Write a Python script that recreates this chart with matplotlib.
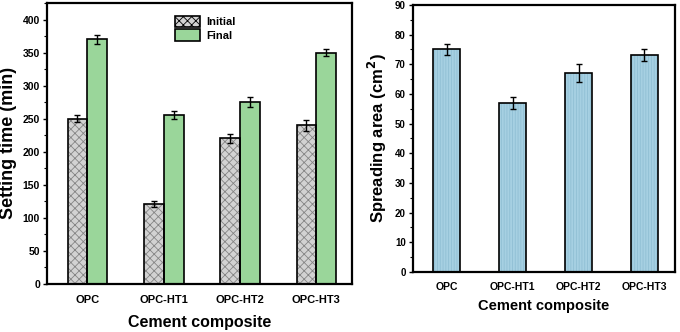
import numpy as np
import matplotlib
matplotlib.use('Agg')
import matplotlib.pyplot as plt
from matplotlib.patches import Patch

plt.rcParams['font.family'] = ['Liberation Sans', 'DejaVu Sans']
plt.rcParams['font.weight'] = 'bold'
plt.rcParams['hatch.linewidth'] = 0.6

# data
categories = ['OPC', 'OPC-HT1', 'OPC-HT2', 'OPC-HT3']
initial_time = [250, 121, 220, 240]
initial_err = [5, 5, 7, 8]
final_time = [370, 255, 275, 350]
final_err = [7, 6, 8, 5]
spread_area = [75, 57, 67, 73]
spread_err = [2, 2, 3, 2]


def hatched_bar(ax, x, h, w, face, hcolor, hatch, **kw):
    ax.bar(x, h, w, color=face, edgecolor=hcolor, hatch=hatch, linewidth=0, zorder=2)
    ax.bar(x, h, w, color='none', edgecolor='black', linewidth=1.2, zorder=3, **kw)


def main():
    fig = plt.figure(figsize=(6.8, 3.32), dpi=100)
    ax1 = fig.add_axes([0.069, 0.145, 0.449, 0.846])
    ax2 = fig.add_axes([0.607, 0.181, 0.386, 0.804])

    x = np.arange(len(categories))
    w = 0.26
    ek = dict(ecolor='black', elinewidth=1, capsize=2.5, capthick=1)

    # Setting time
    hatched_bar(ax1, x - w / 2, initial_time, w, '#d2d2d2', '#858585', 'xxxx',
                yerr=initial_err, error_kw=ek)
    hatched_bar(ax1, x + w / 2, final_time, w, '#9ad69a', '#9ad69a', None,
                yerr=final_err, error_kw=ek)
    ax1.set_xlim(-0.53, 3.47)
    ax1.set_ylim(0, 425)
    ax1.set_yticks(range(0, 401, 50))
    ax1.set_yticks(range(25, 426, 50), minor=True)
    ax1.set_xticks(x)
    ax1.set_xticklabels(categories)
    ax1.set_ylabel('Setting time (min)', fontsize=13, fontweight='bold', labelpad=4)
    ax1.set_xlabel('Cement composite', fontsize=11.5, fontweight='bold', labelpad=7)
    ax1.tick_params(axis='x', length=0, labelsize=8, pad=8)
    ax1.tick_params(axis='y', which='major', length=3, width=1, labelsize=7.5, pad=2)
    ax1.tick_params(axis='y', which='minor', length=2, width=0.8)

    handles = [Patch(facecolor='#d2d2d2', edgecolor='black', hatch='xxxx', linewidth=1.2),
               Patch(facecolor='#9ad69a', edgecolor='black', linewidth=1.2)]
    ax1.legend(handles, ['Initial', 'Final'], loc='upper center', bbox_to_anchor=(0.52, 0.99),
               frameon=False, prop={'size': 8, 'weight': 'bold'},
               handlelength=2.2, handleheight=1.2, labelspacing=0.2, handletextpad=0.6)

    # Spreading area
    wb = 0.41
    hatched_bar(ax2, x, spread_area, wb, '#a6d0e2', '#90bfd4', '||||||',
                yerr=spread_err, error_kw=ek)
    ax2.set_xlim(-0.52, 3.47)
    ax2.set_ylim(0, 90)
    ax2.set_yticks(range(0, 91, 10))
    ax2.set_yticks(range(5, 90, 10), minor=True)
    ax2.set_xticks(x)
    ax2.set_xticklabels(categories)
    ax2.set_ylabel('Spreading area (cm$^\\mathbf{2}$)', fontsize=12, fontweight='bold', labelpad=4)
    ax2.set_xlabel('Cement composite', fontsize=10.5, fontweight='bold', labelpad=5)
    ax2.tick_params(axis='x', length=0, labelsize=7.5, pad=7)
    ax2.tick_params(axis='y', which='major', length=3, width=1, labelsize=7, pad=2)
    ax2.tick_params(axis='y', which='minor', length=2, width=0.8)

    for ax in (ax1, ax2):
        for s in ax.spines.values():
            s.set_linewidth(1.6)
        for lbl in ax.get_xticklabels() + ax.get_yticklabels():
            lbl.set_fontweight('bold')

    fig.savefig('out.png', dpi=100)


if __name__ == '__main__':
    main()
